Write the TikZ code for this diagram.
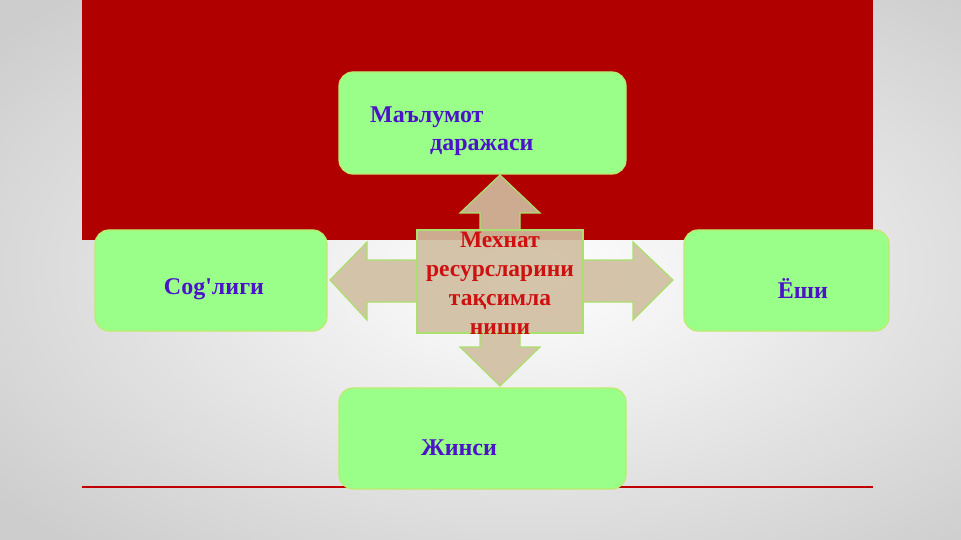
\documentclass[tikz,border=0pt]{standalone}
\usepackage{fontspec}
\setmainfont{Liberation Serif}
\definecolor{darkred}{RGB}{176,0,0}
\definecolor{lineRed}{RGB}{192,0,0}
\definecolor{boxfill}{RGB}{153,255,136}
\definecolor{boxline}{RGB}{190,235,110}
\definecolor{txtblue}{RGB}{75,20,200}
\definecolor{txtred}{RGB}{205,16,16}
\definecolor{tan}{RGB}{208,190,160}
\definecolor{arrline}{RGB}{170,225,110}
\definecolor{bggrey}{RGB}{205,205,205}
\tikzset{
  box/.style={draw=boxline, line width=1.2pt, fill=boxfill, rounded corners=14pt, inner sep=0pt},
  boxtext/.style={text=txtblue, font=\bfseries\fontsize{24}{27}\selectfont, inner sep=0pt},
  centertext/.style={text=txtred, font=\bfseries\fontsize{23.5}{29}\selectfont, align=center, inner sep=0pt},
  quad/.style={fill=tan, fill opacity=0.9, draw=arrline, line width=1.2pt, line join=miter}
}
\begin{document}
\begin{tikzpicture}[x=1pt,y=-1pt]
\useasboundingbox (0,0) rectangle (961,540);
\shade[inner color=white, outer color=bggrey] (-150,-100) rectangle (1200,640);
\fill[darkred] (82,0) rectangle (873,240);
\draw[lineRed, line width=1.5pt] (82,487) -- (873,487);
% four-way arrow
\draw[quad] (500,175) -- (540,213) -- (520,213) -- (520,230) -- (583,230) -- (583,260)
  -- (633,260) -- (633,242) -- (673,280) -- (633,320) -- (633,302) -- (583,302)
  -- (583,333) -- (520,333) -- (520,347) -- (540,347) -- (500,386) -- (460,347)
  -- (480,347) -- (480,333) -- (417,333) -- (417,302) -- (367,302) -- (367,320)
  -- (330,280) -- (367,242) -- (367,260) -- (417,260) -- (417,230) -- (480,230)
  -- (480,213) -- (460,213) -- cycle;
\draw[draw=arrline, line width=1.2pt] (417,230) rectangle (583,333);
\node[centertext] (center) at (500,283) {Мехнат\\ресурсларини\\тақсимла\\ниши};
% boxes
\node[box, minimum width=287pt, minimum height=102pt] (top) at (482.5,123) {};
\node[box, minimum width=232pt, minimum height=101pt] (left) at (211,280.5) {};
\node[box, minimum width=205pt, minimum height=101pt] (right) at (786.5,280.5) {};
\node[box, minimum width=287pt, minimum height=101pt] (bottom) at (482.5,438.5) {};
\node[boxtext, anchor=west] (t1) at (370,117) {Маълумот};
\node[boxtext, anchor=west] (t2) at (430,147) {даражаси};
\node[boxtext] (l1) at (214,289) {Cog\textquotesingle лиги};
\node[boxtext] (r1) at (803,289) {Ёши};
\node[boxtext] (b1) at (459,448) {Жинси};
\end{tikzpicture}
\end{document}
